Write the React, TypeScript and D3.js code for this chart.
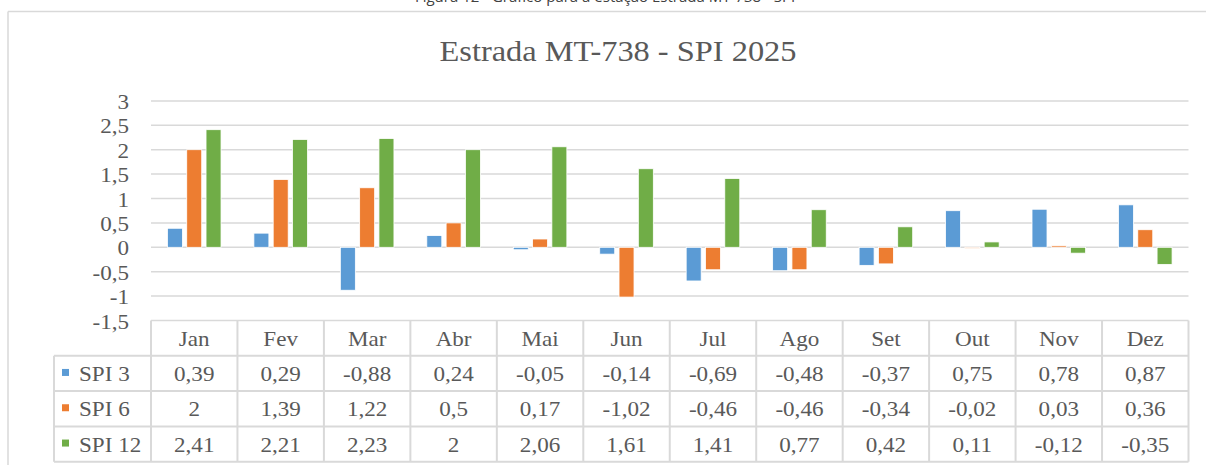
import React from "react";
import * as d3 from "d3";

const months = ["Jan", "Fev", "Mar", "Abr", "Mai", "Jun", "Jul", "Ago", "Set", "Out", "Nov", "Dez"];
const seriesNames = ["SPI 3", "SPI 6", "SPI 12"];
const spi3 = [0.39, 0.29, -0.88, 0.24, -0.05, -0.14, -0.69, -0.48, -0.37, 0.75, 0.78, 0.87];
const spi6 = [2, 1.39, 1.22, 0.5, 0.17, -1.02, -0.46, -0.46, -0.34, -0.02, 0.03, 0.36];
const spi12 = [2.41, 2.21, 2.23, 2, 2.06, 1.61, 1.41, 0.77, 0.42, 0.11, -0.12, -0.35];
const yTicks = [3, 2.5, 2, 1.5, 1, 0.5, 0, -0.5, -1, -1.5];
const colors = ["#5B9BD5", "#ED7D31", "#70AD47"];
const title = "Estrada MT-738 - SPI 2025";
const caption = "Figura 12 - Gráfico para a estação Estrada MT-738 - SPI";

const W = 1206;
const H = 465;
const TXT = "#595959";
const GRID = "#d9d9d9";
const FONT = "'Liberation Serif', 'Times New Roman', serif";
const SX = 1.1;
const FS = 21;

const fmt = (v: number) => String(v).replace(".", ",");

function T({ x, y, anchor, size, children, sx = SX }: any) {
  return (
    <g transform={`translate(${x},${y}) scale(${sx},1)`}>
      <text x={0} y={0} textAnchor={anchor} fontSize={size} fontFamily={FONT} fill={TXT}>
        {children}
      </text>
    </g>
  );
}

export default function App() {
  const series = [spi3, spi6, spi12];
  const x = d3.scaleBand<string>().domain(months).range([151, 1188.5]).paddingInner(0).paddingOuter(0);
  const inner = d3
    .scaleBand<string>()
    .domain(seriesNames)
    .range([-26.8, 26.8])
    .paddingInner(0.223)
    .paddingOuter(0);
  const y = d3.scaleLinear().domain([-1.5, 3]).range([320.5, 100.9]);
  const rowH = 35.3;
  const tableTop = y(-1.5);
  const rowY = (i: number) => tableTop + rowH * i;
  const legendLeft = 54;
  const x0 = x.range()[0];
  const x1 = x.range()[1];

  return (
    <svg width={W} height={H} style={{ position: "absolute", left: 0, top: 0, background: "#fff" }}>
      <rect x={0} y={0} width={W} height={H} fill="#fff" />
      <text x={605} y={1.5} textAnchor="middle" fontSize={15} fontFamily="'Open Sans', sans-serif" fill="#404040">
        {caption}
      </text>
      <line x1={8} x2={W} y1={11.5} y2={11.5} stroke={GRID} strokeWidth={1.5} />
      <line x1={8} x2={8} y1={11.5} y2={H} stroke={GRID} strokeWidth={1.5} />

      <T x={618} y={60.5} anchor="middle" size={30} sx={1.08}>
        {title}
      </T>

      {yTicks.map((t) => (
        <line key={t} x1={x0} x2={x1} y1={y(t)} y2={y(t)} stroke={GRID} strokeWidth={1.5} />
      ))}
      {yTicks.map((t) => (
        <T key={"l" + t} x={129} y={y(t) + 8} anchor="end" size={FS}>
          {fmt(t)}
        </T>
      ))}

      {months.map((m, i) => (
        <g key={m}>
          {series.map((s, j) => {
            const v = s[i];
            const cx = (x(m) as number) + x.bandwidth() / 2;
            const bx = cx + (inner(seriesNames[j]) as number);
            const top = Math.min(y(v), y(0));
            const h = Math.abs(y(v) - y(0));
            return (
              <rect
                key={j}
                x={bx}
                y={top}
                width={inner.bandwidth()}
                height={h}
                fill={colors[j]}
                stroke="#fff"
                strokeWidth={0.8}
              />
            );
          })}
        </g>
      ))}

      {[1, 2, 3, 4].map((r) => (
        <line key={"h" + r} x1={legendLeft} x2={x1} y1={rowY(r)} y2={rowY(r)} stroke={GRID} strokeWidth={2} />
      ))}
      {d3.range(13).map((k) => {
        const xx = k < 12 ? (x(months[k]) as number) : x1;
        return <line key={"v" + k} x1={xx} x2={xx} y1={tableTop} y2={rowY(4)} stroke={GRID} strokeWidth={2} />;
      })}
      <line x1={legendLeft} x2={legendLeft} y1={rowY(1)} y2={rowY(4)} stroke={GRID} strokeWidth={2} />

      {months.map((m) => (
        <T key={"m" + m} x={(x(m) as number) + x.bandwidth() / 2} y={rowY(0) + rowH / 2 + 7.5} anchor="middle" size={FS}>
          {m}
        </T>
      ))}
      {series.map((s, j) => (
        <g key={"r" + j}>
          <rect x={62} y={rowY(j + 1) + rowH / 2 - 4.5} width={7} height={7} fill={colors[j]} />
          <T x={79} y={rowY(j + 1) + rowH / 2 + 7.5} anchor="start" size={FS}>
            {seriesNames[j]}
          </T>
          {months.map((m, i) => (
            <T
              key={m}
              x={(x(m) as number) + x.bandwidth() / 2}
              y={rowY(j + 1) + rowH / 2 + 7.5}
              anchor="middle"
              size={FS}
            >
              {fmt(s[i])}
            </T>
          ))}
        </g>
      ))}
    </svg>
  );
}
